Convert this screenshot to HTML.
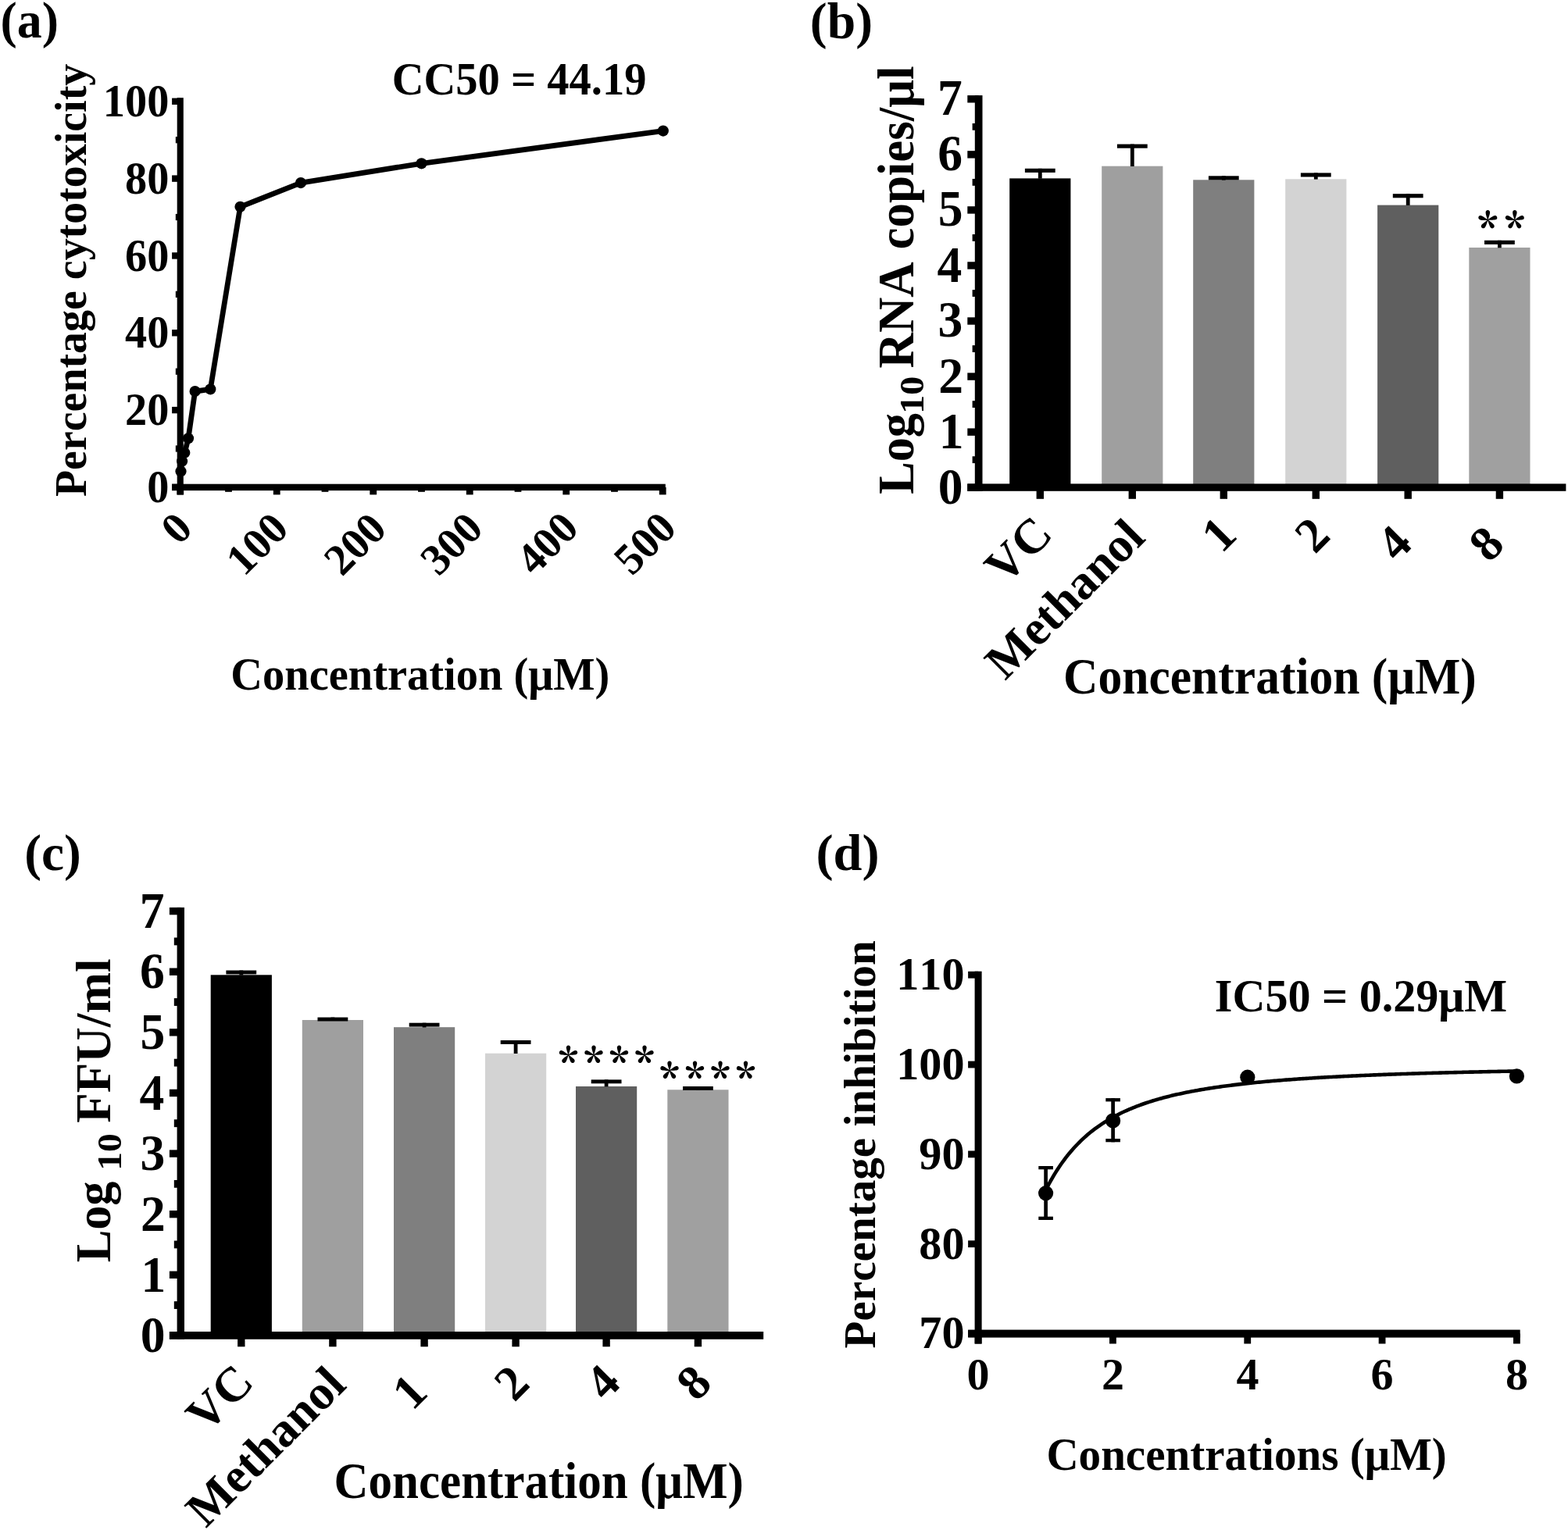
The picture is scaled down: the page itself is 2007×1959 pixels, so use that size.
<!DOCTYPE html>
<html><head><meta charset="utf-8"><title>Figure</title><style>
html,body{margin:0;padding:0;background:#fff;width:2007px;height:1959px;overflow:hidden}
svg{display:block}
text{font-family:"Liberation Serif","Times New Roman",serif;font-weight:bold;fill:#000;font-kerning:none}
text.ast{font-family:"Noto Serif CJK SC","Liberation Serif",serif;font-weight:900}
</style></head><body>
<svg width="2007" height="1959" viewBox="0 0 2007 1959">
<rect width="2007" height="1959" fill="#fff"/>
<text transform="translate(0.59 47.60) scale(0.9757 1)" font-size="65.50">(a)</text>
<rect x="226.70" y="125.20" width="8.10" height="508.30" fill="#000"/>
<rect x="220.10" y="619.70" width="631.70" height="8.40" fill="#000"/>
<rect x="220.10" y="619.70" width="10.65" height="8.40" fill="#000"/>
<rect x="220.10" y="520.88" width="10.65" height="8.40" fill="#000"/>
<rect x="220.10" y="422.06" width="10.65" height="8.40" fill="#000"/>
<rect x="220.10" y="323.24" width="10.65" height="8.40" fill="#000"/>
<rect x="220.10" y="224.42" width="10.65" height="8.40" fill="#000"/>
<rect x="220.10" y="125.60" width="10.65" height="8.40" fill="#000"/>
<rect x="224.80" y="570.39" width="5.95" height="8.20" fill="#000"/>
<rect x="224.80" y="471.57" width="5.95" height="8.20" fill="#000"/>
<rect x="224.80" y="372.75" width="5.95" height="8.20" fill="#000"/>
<rect x="224.80" y="273.93" width="5.95" height="8.20" fill="#000"/>
<rect x="224.80" y="175.11" width="5.95" height="8.20" fill="#000"/>
<rect x="226.35" y="623.90" width="8.80" height="9.50" fill="#000"/>
<rect x="349.84" y="623.90" width="8.80" height="9.50" fill="#000"/>
<rect x="473.33" y="623.90" width="8.80" height="9.50" fill="#000"/>
<rect x="596.82" y="623.90" width="8.80" height="9.50" fill="#000"/>
<rect x="720.31" y="623.90" width="8.80" height="9.50" fill="#000"/>
<rect x="843.80" y="623.90" width="8.80" height="9.50" fill="#000"/>
<rect x="288.10" y="623.90" width="8.80" height="5.90" fill="#000"/>
<rect x="411.59" y="623.90" width="8.80" height="5.90" fill="#000"/>
<rect x="535.08" y="623.90" width="8.80" height="5.90" fill="#000"/>
<rect x="658.57" y="623.90" width="8.80" height="5.90" fill="#000"/>
<rect x="782.06" y="623.90" width="8.80" height="5.90" fill="#000"/>
<text transform="translate(188.17 643.03) scale(0.9650 1)" font-size="58.40">0</text>
<text transform="translate(159.99 544.21) scale(0.9650 1)" font-size="58.40">20</text>
<text transform="translate(159.99 445.39) scale(0.9650 1)" font-size="58.40">40</text>
<text transform="translate(159.99 346.57) scale(0.9650 1)" font-size="58.40">60</text>
<text transform="translate(159.99 247.75) scale(0.9650 1)" font-size="58.40">80</text>
<text transform="translate(131.81 148.93) scale(0.9650 1)" font-size="58.40">100</text>
<text transform="translate(248.77 679.38) rotate(-45)" font-size="56.20" text-anchor="end">0</text>
<text transform="translate(371.95 679.68) rotate(-45)" font-size="56.20" text-anchor="end">100</text>
<text transform="translate(497.45 679.77) rotate(-45)" font-size="56.20" text-anchor="end">200</text>
<text transform="translate(620.75 679.45) rotate(-45)" font-size="56.20" text-anchor="end">300</text>
<text transform="translate(743.23 678.78) rotate(-45)" font-size="56.20" text-anchor="end">400</text>
<text transform="translate(868.40 678.89) rotate(-45)" font-size="56.20" text-anchor="end">500</text>
<polyline fill="none" stroke="#000" stroke-width="6.8" stroke-linejoin="round" points="231.5,603.5 233.1,590.5 236.3,579.8 241.0,561.3 249.6,501.1 269.3,498.3 307.5,264.8 385.0,234.1 539.5,209.3 848.8,167.6"/>
<circle cx="231.5" cy="603.5" r="7.1" fill="#000"/>
<circle cx="233.1" cy="590.5" r="7.1" fill="#000"/>
<circle cx="236.3" cy="579.8" r="7.1" fill="#000"/>
<circle cx="241.0" cy="561.3" r="7.1" fill="#000"/>
<circle cx="249.6" cy="501.1" r="7.1" fill="#000"/>
<circle cx="269.3" cy="498.3" r="7.1" fill="#000"/>
<circle cx="307.5" cy="264.8" r="7.1" fill="#000"/>
<circle cx="385.0" cy="234.1" r="7.1" fill="#000"/>
<circle cx="539.5" cy="209.3" r="7.1" fill="#000"/>
<circle cx="848.8" cy="167.6" r="7.1" fill="#000"/>
<text transform="translate(109.50 636.06) rotate(-90) scale(0.9642 1)" font-size="58.00">Percentage cytotoxicity</text>
<text transform="translate(295.34 883.30) scale(0.9567 1)" font-size="59.00">Concentration (μM)</text>
<text transform="translate(501.64 121.10) scale(0.9583 1)" font-size="59.00">CC50 = 44.19</text>
<text transform="translate(1036.82 48.60) scale(1.0014 1)" font-size="65.50">(b)</text>
<rect x="1292.20" y="228.40" width="78.20" height="395.70" fill="#000000"/>
<rect x="1410.20" y="212.70" width="78.20" height="411.40" fill="#9f9f9f"/>
<rect x="1527.20" y="230.30" width="78.20" height="393.80" fill="#7f7f7f"/>
<rect x="1645.20" y="229.30" width="78.20" height="394.80" fill="#d3d3d3"/>
<rect x="1763.10" y="262.60" width="78.20" height="361.50" fill="#5f5f5f"/>
<rect x="1880.30" y="317.00" width="78.20" height="307.10" fill="#a0a0a0"/>
<rect x="1247.80" y="122.10" width="9.70" height="506.70" fill="#000"/>
<rect x="1238.30" y="619.40" width="766.10" height="9.40" fill="#000"/>
<rect x="1238.30" y="619.50" width="14.35" height="9.40" fill="#000"/>
<text transform="translate(1200.84 644.76) scale(0.9750 1)" font-size="65.20">0</text>
<rect x="1238.30" y="548.44" width="14.35" height="9.40" fill="#000"/>
<text transform="translate(1201.71 573.86) scale(0.9750 1)" font-size="65.20">1</text>
<rect x="1238.30" y="477.39" width="14.35" height="9.40" fill="#000"/>
<text transform="translate(1201.15 502.87) scale(0.9750 1)" font-size="65.20">2</text>
<rect x="1238.30" y="406.33" width="14.35" height="9.40" fill="#000"/>
<text transform="translate(1200.59 431.49) scale(0.9750 1)" font-size="65.20">3</text>
<rect x="1238.30" y="335.27" width="14.35" height="9.40" fill="#000"/>
<text transform="translate(1199.59 360.63) scale(0.9750 1)" font-size="65.20">4</text>
<rect x="1238.30" y="264.21" width="14.35" height="9.40" fill="#000"/>
<text transform="translate(1200.74 289.14) scale(0.9750 1)" font-size="65.20">5</text>
<rect x="1238.30" y="193.16" width="14.35" height="9.40" fill="#000"/>
<text transform="translate(1200.28 218.32) scale(0.9750 1)" font-size="65.20">6</text>
<rect x="1238.30" y="122.10" width="14.35" height="9.40" fill="#000"/>
<text transform="translate(1199.97 147.35) scale(0.9750 1)" font-size="65.20">7</text>
<rect x="1244.60" y="584.27" width="8.05" height="8.80" fill="#000"/>
<rect x="1244.60" y="513.21" width="8.05" height="8.80" fill="#000"/>
<rect x="1244.60" y="442.16" width="8.05" height="8.80" fill="#000"/>
<rect x="1244.60" y="371.10" width="8.05" height="8.80" fill="#000"/>
<rect x="1244.60" y="300.04" width="8.05" height="8.80" fill="#000"/>
<rect x="1244.60" y="228.99" width="8.05" height="8.80" fill="#000"/>
<rect x="1244.60" y="157.93" width="8.05" height="8.80" fill="#000"/>
<rect x="1328.90" y="215.80" width="4.80" height="12.90" fill="#000"/>
<rect x="1311.90" y="215.80" width="38.80" height="5.10" fill="#000"/>
<rect x="1326.60" y="624.10" width="9.40" height="14.70" fill="#000"/>
<text transform="translate(1349.87 686.61) rotate(-45)" font-size="62.50" text-anchor="end">VC</text>
<rect x="1446.90" y="184.60" width="4.80" height="28.40" fill="#000"/>
<rect x="1429.90" y="184.60" width="38.80" height="5.10" fill="#000"/>
<rect x="1444.60" y="624.10" width="9.40" height="14.70" fill="#000"/>
<text transform="translate(1468.11 690.63) rotate(-45)" font-size="62.50" text-anchor="end">Methanol</text>
<rect x="1563.90" y="225.30" width="4.80" height="5.30" fill="#000"/>
<rect x="1546.90" y="225.30" width="38.80" height="5.10" fill="#000"/>
<rect x="1561.60" y="624.10" width="9.40" height="14.70" fill="#000"/>
<text transform="translate(1585.60 687.75) rotate(-45)" font-size="62.50" text-anchor="end">1</text>
<rect x="1681.90" y="221.40" width="4.80" height="8.20" fill="#000"/>
<rect x="1664.90" y="221.40" width="38.80" height="5.10" fill="#000"/>
<rect x="1679.60" y="624.10" width="9.40" height="14.70" fill="#000"/>
<text transform="translate(1705.15 688.52) rotate(-45)" font-size="62.50" text-anchor="end">2</text>
<rect x="1799.80" y="248.20" width="4.80" height="14.70" fill="#000"/>
<rect x="1782.80" y="248.20" width="38.80" height="5.10" fill="#000"/>
<rect x="1797.50" y="624.10" width="9.40" height="14.70" fill="#000"/>
<text transform="translate(1810.03 698.70) rotate(-45)" font-size="62.50" text-anchor="end">4</text>
<rect x="1917.00" y="307.80" width="4.80" height="9.50" fill="#000"/>
<rect x="1900.00" y="307.80" width="38.80" height="5.10" fill="#000"/>
<rect x="1914.70" y="624.10" width="9.40" height="14.70" fill="#000"/>
<text transform="translate(1928.06 699.54) rotate(-45)" font-size="62.50" text-anchor="end">8</text>
<text transform="translate(1168.70 632.86) rotate(-90) scale(0.9631 1)" font-size="64.70">Log</text>
<text transform="translate(1181.90 529.85) rotate(-90) scale(1.0685 1)" font-size="45.00">10</text>
<text transform="translate(1168.80 471.48) rotate(-90) scale(0.9725 1)" font-size="64.70">RNA copies/μl</text>
<text transform="translate(1361.10 887.80) scale(0.9323 1)" font-size="66.00">Concentration (μM)</text>
<text transform="translate(31.22 1113.50) scale(0.9994 1)" font-size="65.50">(c)</text>
<rect x="269.70" y="1248.30" width="78.20" height="461.60" fill="#000000"/>
<rect x="386.80" y="1306.00" width="78.20" height="403.90" fill="#9f9f9f"/>
<rect x="504.00" y="1315.20" width="78.20" height="394.70" fill="#7f7f7f"/>
<rect x="621.00" y="1348.70" width="78.20" height="361.20" fill="#d3d3d3"/>
<rect x="737.00" y="1391.00" width="78.20" height="318.90" fill="#5f5f5f"/>
<rect x="854.30" y="1395.30" width="78.20" height="314.60" fill="#a0a0a0"/>
<rect x="226.60" y="1161.90" width="9.40" height="552.90" fill="#000"/>
<rect x="216.90" y="1705.00" width="760.30" height="9.80" fill="#000"/>
<rect x="216.90" y="1705.20" width="14.40" height="9.40" fill="#000"/>
<text transform="translate(179.64 1731.26) scale(0.9750 1)" font-size="65.20">0</text>
<rect x="216.90" y="1627.59" width="14.40" height="9.40" fill="#000"/>
<text transform="translate(180.51 1653.81) scale(0.9750 1)" font-size="65.20">1</text>
<rect x="216.90" y="1549.97" width="14.40" height="9.40" fill="#000"/>
<text transform="translate(179.95 1576.26) scale(0.9750 1)" font-size="65.20">2</text>
<rect x="216.90" y="1472.36" width="14.40" height="9.40" fill="#000"/>
<text transform="translate(179.39 1498.32) scale(0.9750 1)" font-size="65.20">3</text>
<rect x="216.90" y="1394.74" width="14.40" height="9.40" fill="#000"/>
<text transform="translate(178.39 1420.90) scale(0.9750 1)" font-size="65.20">4</text>
<rect x="216.90" y="1317.13" width="14.40" height="9.40" fill="#000"/>
<text transform="translate(179.54 1342.86) scale(0.9750 1)" font-size="65.20">5</text>
<rect x="216.90" y="1239.51" width="14.40" height="9.40" fill="#000"/>
<text transform="translate(179.08 1265.48) scale(0.9750 1)" font-size="65.20">6</text>
<rect x="216.90" y="1161.90" width="14.40" height="9.40" fill="#000"/>
<text transform="translate(178.77 1187.95) scale(0.9750 1)" font-size="65.20">7</text>
<rect x="222.80" y="1666.19" width="8.50" height="9.80" fill="#000"/>
<rect x="222.80" y="1588.58" width="8.50" height="9.80" fill="#000"/>
<rect x="222.80" y="1510.96" width="8.50" height="9.80" fill="#000"/>
<rect x="222.80" y="1433.35" width="8.50" height="9.80" fill="#000"/>
<rect x="222.80" y="1355.74" width="8.50" height="9.80" fill="#000"/>
<rect x="222.80" y="1278.12" width="8.50" height="9.80" fill="#000"/>
<rect x="222.80" y="1200.51" width="8.50" height="9.80" fill="#000"/>
<rect x="306.40" y="1242.50" width="4.80" height="6.10" fill="#000"/>
<rect x="289.40" y="1242.50" width="38.80" height="4.90" fill="#000"/>
<rect x="304.10" y="1709.90" width="9.40" height="14.40" fill="#000"/>
<text transform="translate(327.52 1772.66) rotate(-45)" font-size="62.50" text-anchor="end">VC</text>
<rect x="423.50" y="1302.60" width="4.80" height="3.70" fill="#000"/>
<rect x="406.50" y="1302.60" width="38.80" height="4.90" fill="#000"/>
<rect x="421.20" y="1709.90" width="9.40" height="14.40" fill="#000"/>
<text transform="translate(445.26 1775.83) rotate(-45)" font-size="62.50" text-anchor="end">Methanol</text>
<rect x="540.70" y="1309.70" width="4.80" height="5.80" fill="#000"/>
<rect x="523.70" y="1309.70" width="38.80" height="4.90" fill="#000"/>
<rect x="538.40" y="1709.90" width="9.40" height="14.40" fill="#000"/>
<text transform="translate(549.90 1785.35) rotate(-45)" font-size="62.50" text-anchor="end">1</text>
<rect x="657.70" y="1332.00" width="4.80" height="17.00" fill="#000"/>
<rect x="640.70" y="1332.00" width="38.80" height="4.90" fill="#000"/>
<rect x="655.40" y="1709.90" width="9.40" height="14.40" fill="#000"/>
<text transform="translate(680.40 1774.12) rotate(-45)" font-size="62.50" text-anchor="end">2</text>
<rect x="773.70" y="1382.40" width="4.80" height="8.90" fill="#000"/>
<rect x="756.70" y="1382.40" width="38.80" height="4.90" fill="#000"/>
<rect x="771.40" y="1709.90" width="9.40" height="14.40" fill="#000"/>
<text transform="translate(796.78 1773.25) rotate(-45)" font-size="62.50" text-anchor="end">4</text>
<rect x="891.00" y="1391.00" width="4.80" height="4.60" fill="#000"/>
<rect x="874.00" y="1391.00" width="38.80" height="4.90" fill="#000"/>
<rect x="888.70" y="1709.90" width="9.40" height="14.40" fill="#000"/>
<text transform="translate(913.71 1773.74) rotate(-45)" font-size="62.50" text-anchor="end">8</text>
<text transform="translate(141.00 1616.36) rotate(-90) scale(0.9803 1)" font-size="63.50">Log</text>
<text transform="translate(155.10 1498.80) rotate(-90) scale(1.0606 1)" font-size="44.80">10</text>
<text transform="translate(140.90 1437.68) rotate(-90) scale(0.9931 1)" font-size="63.50">FFU/ml</text>
<text transform="translate(427.52 1918.10) scale(0.9446 1)" font-size="64.60">Concentration (μM)</text>
<text transform="translate(1044.48 1114.20) scale(1.0135 1)" font-size="65.50">(d)</text>
<rect x="1247.60" y="1243.70" width="9.00" height="476.80" fill="#000"/>
<rect x="1239.10" y="1702.60" width="706.60" height="10.00" fill="#000"/>
<rect x="1239.10" y="1703.20" width="13.00" height="8.80" fill="#000"/>
<text transform="translate(1176.31 1726.47) scale(0.9900 1)" font-size="58.80">70</text>
<rect x="1239.10" y="1588.35" width="13.00" height="8.80" fill="#000"/>
<text transform="translate(1176.31 1611.62) scale(0.9900 1)" font-size="58.80">80</text>
<rect x="1239.10" y="1473.50" width="13.00" height="8.80" fill="#000"/>
<text transform="translate(1176.31 1496.77) scale(0.9900 1)" font-size="58.80">90</text>
<rect x="1239.10" y="1358.65" width="13.00" height="8.80" fill="#000"/>
<text transform="translate(1147.20 1381.92) scale(0.9900 1)" font-size="58.80">100</text>
<rect x="1239.10" y="1243.80" width="13.00" height="8.80" fill="#000"/>
<text transform="translate(1147.20 1267.07) scale(0.9900 1)" font-size="58.80">110</text>
<rect x="1247.70" y="1707.60" width="8.80" height="12.90" fill="#000"/>
<text x="1237.60" y="1779.07" font-size="58.00">0</text>
<rect x="1420.02" y="1707.60" width="8.80" height="12.90" fill="#000"/>
<text x="1409.95" y="1778.90" font-size="58.00">2</text>
<rect x="1592.35" y="1707.60" width="8.80" height="12.90" fill="#000"/>
<text x="1582.39" y="1778.68" font-size="58.00">4</text>
<rect x="1764.67" y="1707.60" width="8.80" height="12.90" fill="#000"/>
<text x="1754.43" y="1778.90" font-size="58.00">6</text>
<rect x="1937.00" y="1707.60" width="8.80" height="12.90" fill="#000"/>
<text x="1926.90" y="1779.07" font-size="58.00">8</text>
<polyline fill="none" stroke="#000" stroke-width="4.6" stroke-linejoin="round" points="1338.26,1524.34 1340.42,1520.12 1342.57,1516.05 1344.72,1512.12 1346.88,1508.34 1349.03,1504.69 1351.19,1501.17 1353.34,1497.77 1355.49,1494.49 1357.65,1491.32 1359.80,1488.26 1361.96,1485.31 1364.11,1482.46 1366.27,1479.70 1368.42,1477.04 1370.57,1474.46 1372.73,1471.97 1374.88,1469.56 1377.04,1467.23 1379.19,1464.97 1381.34,1462.78 1383.50,1460.67 1385.65,1458.62 1387.81,1456.64 1389.96,1454.71 1392.11,1452.85 1394.27,1451.04 1396.42,1449.28 1398.58,1447.58 1400.73,1445.93 1402.88,1444.33 1405.04,1442.77 1407.19,1441.26 1409.35,1439.80 1411.50,1438.37 1413.65,1436.99 1415.81,1435.64 1417.96,1434.33 1420.12,1433.06 1422.27,1431.82 1424.42,1430.61 1426.58,1429.44 1428.73,1428.30 1430.89,1427.18 1433.04,1426.10 1435.20,1425.05 1437.35,1424.02 1439.50,1423.02 1441.66,1422.04 1443.81,1421.09 1445.97,1420.16 1448.12,1419.26 1450.27,1418.38 1452.43,1417.52 1454.58,1416.68 1456.74,1415.86 1458.89,1415.06 1461.04,1414.27 1463.20,1413.51 1465.35,1412.77 1467.51,1412.04 1469.66,1411.32 1471.81,1410.63 1473.97,1409.95 1476.12,1409.28 1478.28,1408.63 1480.43,1408.00 1482.58,1407.38 1484.74,1406.77 1486.89,1406.17 1489.05,1405.59 1491.20,1405.02 1493.36,1404.46 1495.51,1403.92 1497.66,1403.38 1499.82,1402.86 1501.97,1402.35 1504.13,1401.84 1506.28,1401.35 1508.43,1400.87 1510.59,1400.39 1512.74,1399.93 1514.90,1399.48 1517.05,1399.03 1519.20,1398.59 1521.36,1398.17 1523.51,1397.75 1525.67,1397.33 1527.82,1396.93 1529.97,1396.53 1532.13,1396.14 1534.28,1395.76 1536.44,1395.38 1538.59,1395.02 1540.74,1394.65 1542.90,1394.30 1545.05,1393.95 1547.21,1393.61 1549.36,1393.27 1551.51,1392.94 1553.67,1392.62 1555.82,1392.30 1557.98,1391.98 1560.13,1391.68 1562.29,1391.37 1564.44,1391.08 1566.59,1390.78 1568.75,1390.50 1570.90,1390.21 1573.06,1389.93 1575.21,1389.66 1577.36,1389.39 1579.52,1389.13 1581.67,1388.87 1583.83,1388.61 1585.98,1388.36 1588.13,1388.11 1590.29,1387.87 1592.44,1387.63 1594.60,1387.39 1596.75,1387.16 1598.90,1386.93 1601.06,1386.70 1603.21,1386.48 1605.37,1386.26 1607.52,1386.04 1609.67,1385.83 1611.83,1385.62 1613.98,1385.42 1616.14,1385.21 1618.29,1385.01 1620.44,1384.82 1622.60,1384.62 1624.75,1384.43 1626.91,1384.24 1629.06,1384.06 1631.22,1383.87 1633.37,1383.69 1635.52,1383.52 1637.68,1383.34 1639.83,1383.17 1641.99,1383.00 1644.14,1382.83 1646.29,1382.66 1648.45,1382.50 1650.60,1382.34 1652.76,1382.18 1654.91,1382.02 1657.06,1381.87 1659.22,1381.72 1661.37,1381.56 1663.53,1381.42 1665.68,1381.27 1667.83,1381.12 1669.99,1380.98 1672.14,1380.84 1674.30,1380.70 1676.45,1380.56 1678.60,1380.43 1680.76,1380.29 1682.91,1380.16 1685.07,1380.03 1687.22,1379.90 1689.37,1379.78 1691.53,1379.65 1693.68,1379.53 1695.84,1379.40 1697.99,1379.28 1700.14,1379.16 1702.30,1379.04 1704.45,1378.93 1706.61,1378.81 1708.76,1378.70 1710.92,1378.59 1713.07,1378.47 1715.22,1378.37 1717.38,1378.26 1719.53,1378.15 1721.69,1378.04 1723.84,1377.94 1725.99,1377.84 1728.15,1377.73 1730.30,1377.63 1732.46,1377.53 1734.61,1377.43 1736.76,1377.34 1738.92,1377.24 1741.07,1377.14 1743.23,1377.05 1745.38,1376.96 1747.53,1376.86 1749.69,1376.77 1751.84,1376.68 1754.00,1376.59 1756.15,1376.50 1758.30,1376.42 1760.46,1376.33 1762.61,1376.25 1764.77,1376.16 1766.92,1376.08 1769.08,1376.00 1771.23,1375.91 1773.38,1375.83 1775.54,1375.75 1777.69,1375.67 1779.85,1375.60 1782.00,1375.52 1784.15,1375.44 1786.31,1375.36 1788.46,1375.29 1790.62,1375.22 1792.77,1375.14 1794.92,1375.07 1797.08,1375.00 1799.23,1374.93 1801.39,1374.86 1803.54,1374.79 1805.69,1374.72 1807.85,1374.65 1810.00,1374.58 1812.16,1374.51 1814.31,1374.45 1816.46,1374.38 1818.62,1374.32 1820.77,1374.25 1822.93,1374.19 1825.08,1374.12 1827.23,1374.06 1829.39,1374.00 1831.54,1373.94 1833.70,1373.88 1835.85,1373.82 1838.01,1373.76 1840.16,1373.70 1842.31,1373.64 1844.47,1373.58 1846.62,1373.52 1848.78,1373.47 1850.93,1373.41 1853.08,1373.35 1855.24,1373.30 1857.39,1373.24 1859.55,1373.19 1861.70,1373.14 1863.85,1373.08 1866.01,1373.03 1868.16,1372.98 1870.32,1372.93 1872.47,1372.87 1874.62,1372.82 1876.78,1372.77 1878.93,1372.72 1881.09,1372.67 1883.24,1372.62 1885.39,1372.58 1887.55,1372.53 1889.70,1372.48 1891.86,1372.43 1894.01,1372.39 1896.16,1372.34 1898.32,1372.29 1900.47,1372.25 1902.63,1372.20 1904.78,1372.16 1906.94,1372.11 1909.09,1372.07 1911.24,1372.02 1913.40,1371.98 1915.55,1371.94 1917.71,1371.89 1919.86,1371.85 1922.01,1371.81 1924.17,1371.77 1926.32,1371.73 1928.48,1371.69 1930.63,1371.64 1932.78,1371.60 1934.94,1371.56 1937.09,1371.52 1939.25,1371.49 1941.40,1371.45"/>
<rect x="1336.25" y="1493.00" width="4.70" height="69.00" fill="#000"/>
<rect x="1329.30" y="1493.00" width="18.60" height="4.30" fill="#000"/>
<rect x="1329.30" y="1557.70" width="18.60" height="4.30" fill="#000"/>
<circle cx="1338.6" cy="1527.7" r="9.6" fill="#000"/>
<rect x="1422.25" y="1406.10" width="4.70" height="56.20" fill="#000"/>
<rect x="1415.30" y="1406.10" width="18.60" height="4.30" fill="#000"/>
<rect x="1415.30" y="1458.00" width="18.60" height="4.30" fill="#000"/>
<circle cx="1424.6" cy="1434.9" r="9.6" fill="#000"/>
<circle cx="1596.8" cy="1379.2" r="9.6" fill="#000"/>
<circle cx="1941.4" cy="1377.9" r="9.6" fill="#000"/>
<text transform="translate(1120.10 1726.48) rotate(-90) scale(0.9872 1)" font-size="57.90">Percentage inhibition</text>
<text transform="translate(1339.41 1881.60) scale(0.9737 1)" font-size="58.60">Concentrations (μM)</text>
<text transform="translate(1554.84 1295.00) scale(0.9933 1)" font-size="58.50">IC50 = 0.29μM</text>
<text x="1891.50" y="312.66" font-size="52.40" letter-spacing="8.98" class="ast">**</text>
<text x="715.02" y="1380.59" font-size="51.00" letter-spacing="7.59" class="ast">****</text>
<text x="844.42" y="1400.99" font-size="51.00" letter-spacing="7.59" class="ast">****</text>
</svg>
</body></html>
